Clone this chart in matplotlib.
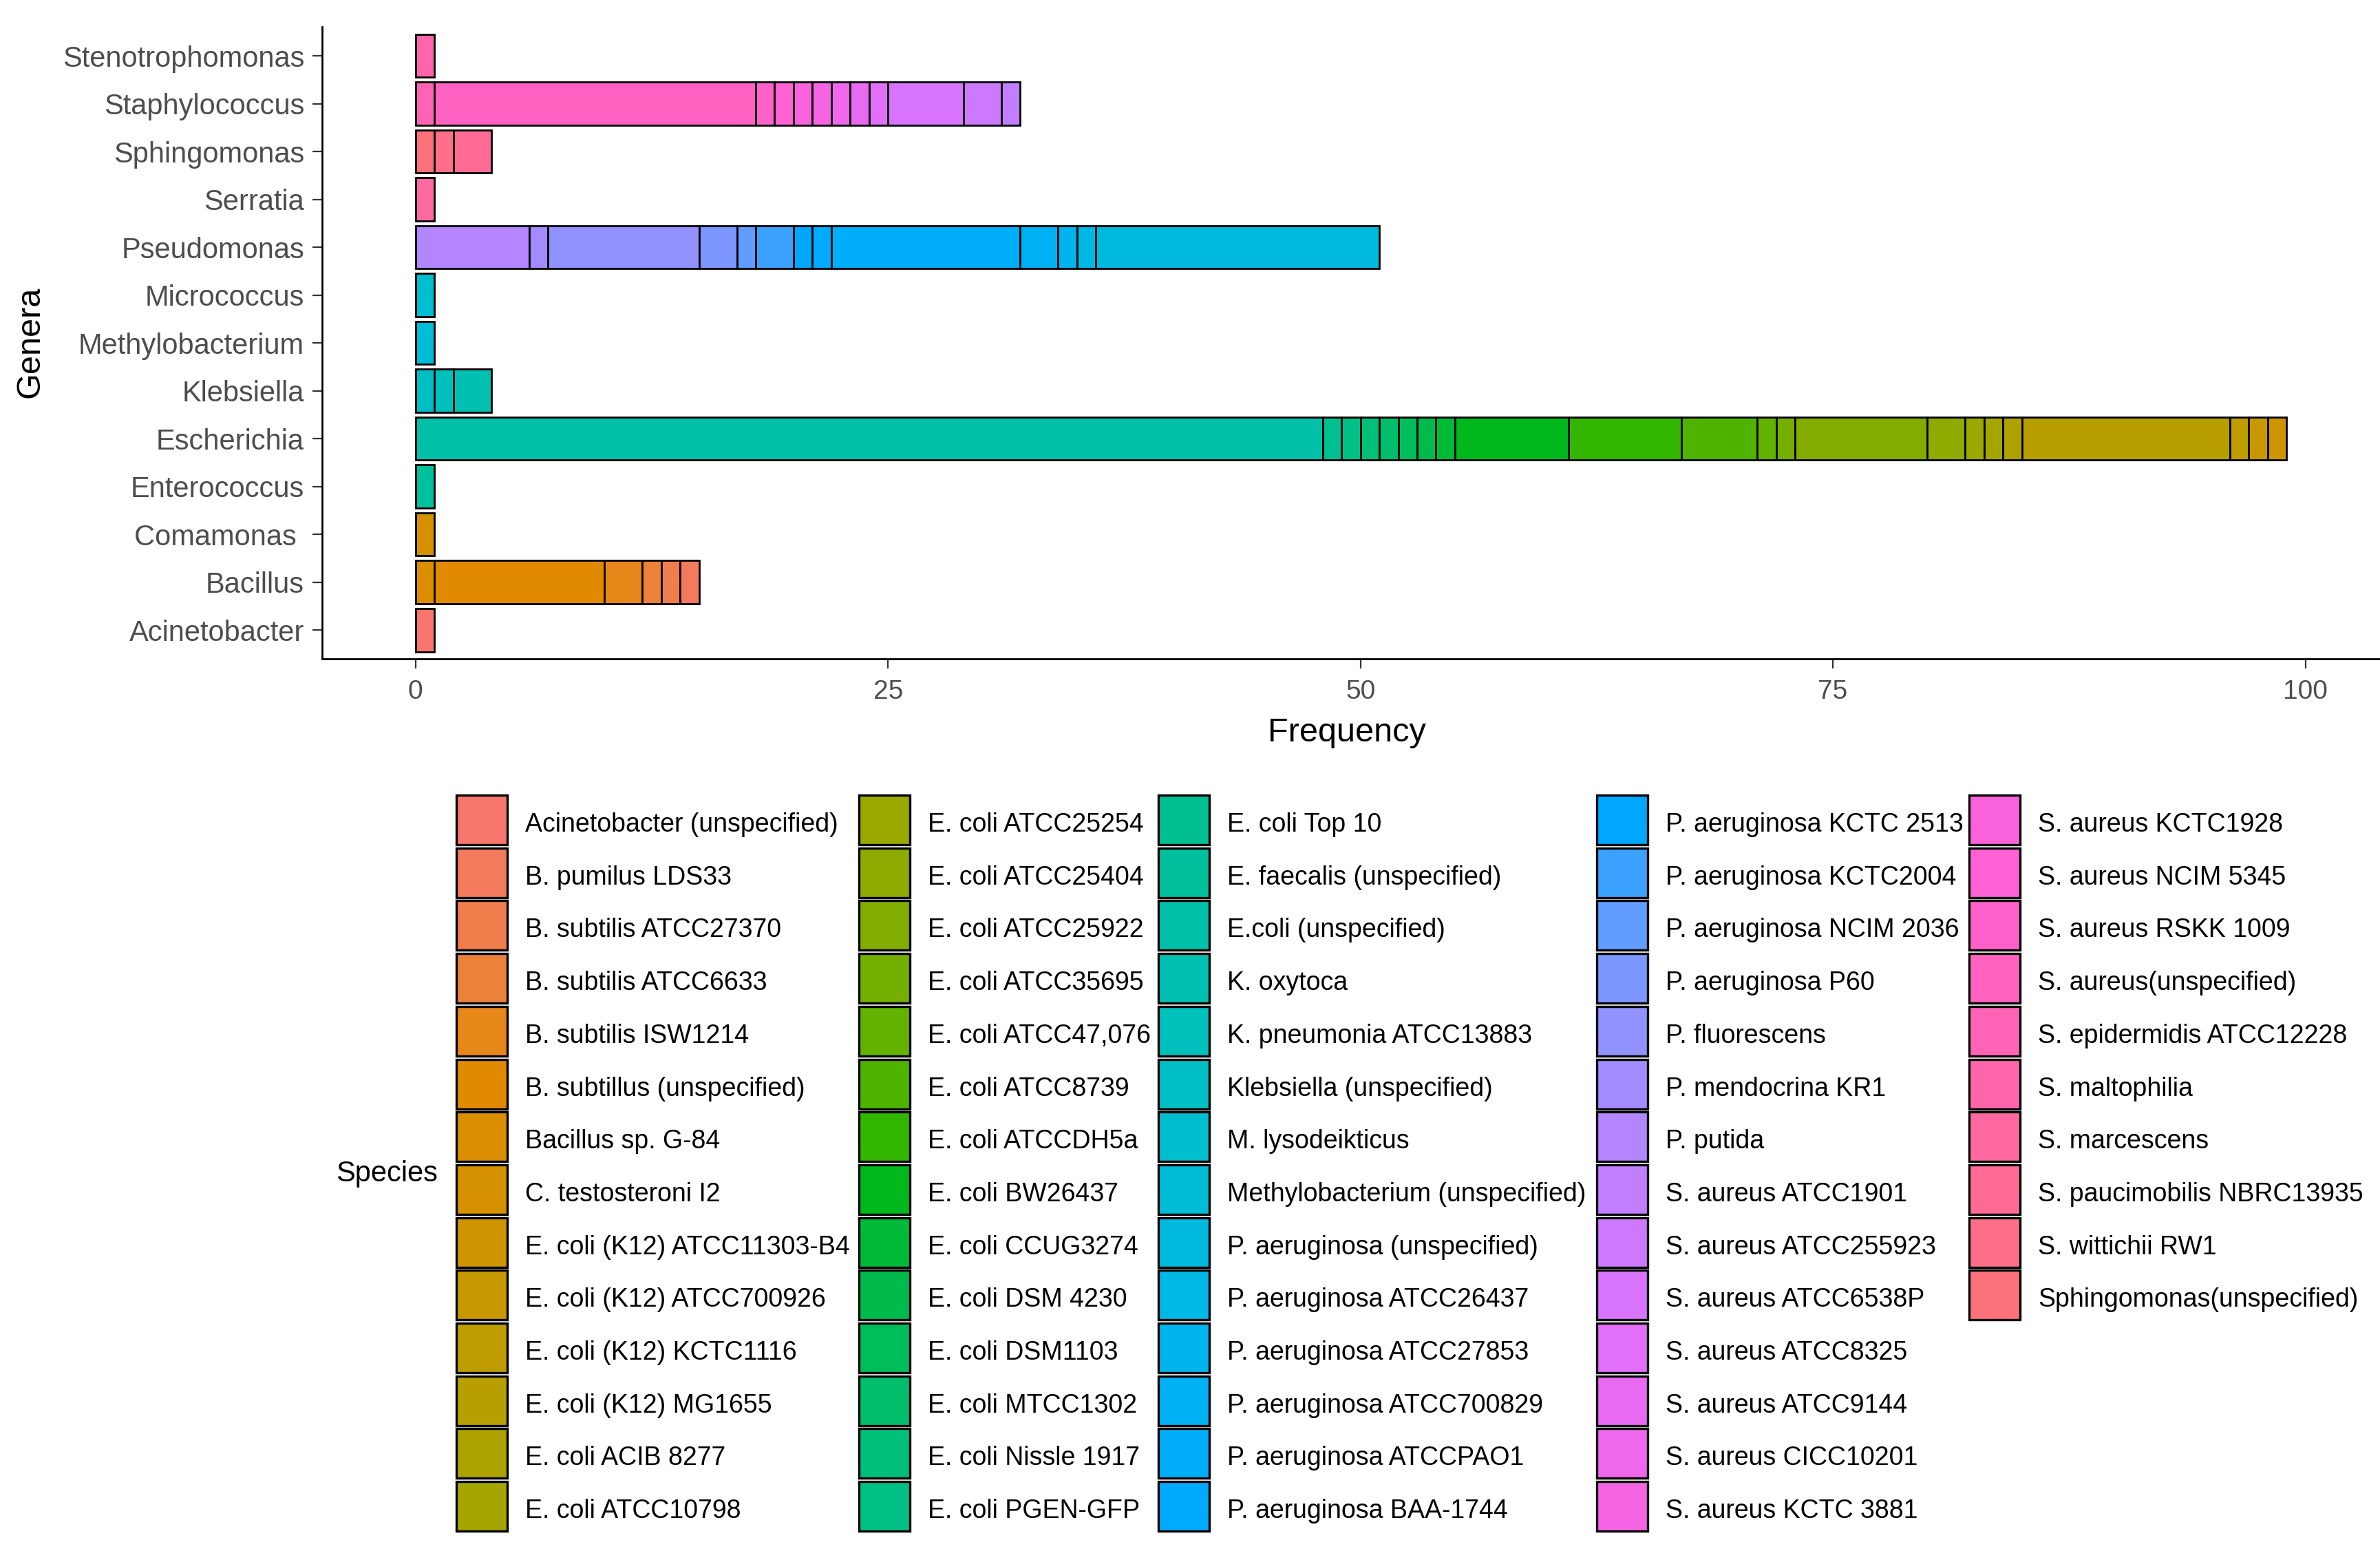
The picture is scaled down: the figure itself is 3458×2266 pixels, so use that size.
import math
import matplotlib
matplotlib.use("Agg")
import matplotlib.pyplot as plt
from matplotlib.patches import Rectangle

plt.rcParams['font.family'] = ['Liberation Sans', 'DejaVu Sans']

genera = ['Acinetobacter', 'Bacillus', 'Comamonas ', 'Enterococcus', 'Escherichia',
          'Klebsiella', 'Methylobacterium', 'Micrococcus', 'Pseudomonas', 'Serratia',
          'Sphingomonas', 'Staphylococcus', 'Stenotrophomonas']

species = [
    'Acinetobacter (unspecified)', 'B. pumilus LDS33', 'B. subtilis ATCC27370', 'B. subtilis ATCC6633',
    'B. subtilis ISW1214', 'B. subtillus (unspecified)', 'Bacillus sp. G-84', 'C. testosteroni I2',
    'E. coli (K12) ATCC11303-B4', 'E. coli (K12) ATCC700926', 'E. coli (K12) KCTC1116', 'E. coli (K12) MG1655',
    'E. coli ACIB 8277', 'E. coli ATCC10798', 'E. coli ATCC25254', 'E. coli ATCC25404', 'E. coli ATCC25922',
    'E. coli ATCC35695', 'E. coli ATCC47,076', 'E. coli ATCC8739', 'E. coli ATCCDH5a', 'E. coli BW26437',
    'E. coli CCUG3274', 'E. coli DSM 4230', 'E. coli DSM1103', 'E. coli MTCC1302', 'E. coli Nissle 1917',
    'E. coli PGEN-GFP', 'E. coli Top 10', 'E. faecalis (unspecified)', 'E.coli (unspecified)', 'K. oxytoca',
    'K. pneumonia ATCC13883', 'Klebsiella (unspecified)', 'M. lysodeikticus', 'Methylobacterium (unspecified)',
    'P. aeruginosa (unspecified)', 'P. aeruginosa ATCC26437', 'P. aeruginosa ATCC27853', 'P. aeruginosa ATCC700829',
    'P. aeruginosa ATCCPAO1', 'P. aeruginosa BAA-1744', 'P. aeruginosa KCTC 2513', 'P. aeruginosa KCTC2004',
    'P. aeruginosa NCIM 2036', 'P. aeruginosa P60', 'P. fluorescens', 'P. mendocrina KR1', 'P. putida',
    'S. aureus ATCC1901', 'S. aureus ATCC255923', 'S. aureus ATCC6538P', 'S. aureus ATCC8325', 'S. aureus ATCC9144',
    'S. aureus CICC10201', 'S. aureus KCTC 3881', 'S. aureus KCTC1928', 'S. aureus NCIM 5345', 'S. aureus RSKK 1009',
    'S. aureus(unspecified)', 'S. epidermidis ATCC12228', 'S. maltophilia', 'S. marcescens',
    'S. paucimobilis NBRC13935', 'S. wittichii RW1', 'Sphingomonas(unspecified)']

species_genus = (['Acinetobacter'] + ['Bacillus'] * 6 + ['Comamonas '] + ['Escherichia'] * 21
                 + ['Enterococcus', 'Escherichia'] + ['Klebsiella'] * 3 + ['Micrococcus', 'Methylobacterium']
                 + ['Pseudomonas'] * 13 + ['Staphylococcus'] * 12 + ['Stenotrophomonas', 'Serratia']
                 + ['Sphingomonas'] * 3)

species_freq = [1, 1, 1, 1, 2, 9, 1, 1,
                1, 1, 1, 11, 1, 1, 1, 2, 7, 1, 1, 4, 6, 6, 1, 1, 1, 1, 1, 1, 1,
                1, 48, 2, 1, 1, 1, 1,
                15, 1, 1, 2, 10, 1, 1, 2, 1, 2, 8, 1, 6,
                1, 2, 4, 1, 1, 1, 1, 1, 1, 1, 17, 1,
                1, 1, 2, 1, 1]


def hcl_hex(h, c=100, l=65):
    # R's hcl(): polar CIE-LUV -> sRGB
    hr = math.radians(h)
    U, V = c * math.cos(hr), c * math.sin(hr)
    Y = 100 * ((l + 16) / 116) ** 3 if l > 8 else 100 * l / 903.3
    u = U / (13 * l) + 0.1978398
    v = V / (13 * l) + 0.4683363
    X = 9.0 * Y * u / (4 * v)
    Z = -X / 3 - 5 * Y + 3 * Y / v
    X, Y, Z = X / 100, Y / 100, Z / 100
    r = 3.240479 * X - 1.537150 * Y - 0.498535 * Z
    g = -0.969256 * X + 1.875992 * Y + 0.041556 * Z
    b = 0.055648 * X - 0.204043 * Y + 1.057311 * Z

    def gam(t):
        t = 1.055 * t ** (1 / 2.4) - 0.055 if t > 0.00304 else 12.92 * t
        return min(max(t, 0), 1)
    return '#%02X%02X%02X' % tuple(int(round(gam(t) * 255)) for t in (r, g, b))


n = len(species)
colors = [hcl_hex(15 + 360 * i / n) for i in range(n)]

W, H = 3458, 2266
fig = plt.figure(figsize=(W / 200, H / 200), dpi=200)
ax = fig.add_axes([0.1353, 0.5777, 0.8647, 0.4049])

# stacked bars, last level nearest to zero (ggplot stacking)
for gi, g in enumerate(genera):
    left = 0
    for si in reversed(range(n)):
        if species_genus[si] != g:
            continue
        ax.barh(gi, species_freq[si], left=left, height=0.9, color=colors[si],
                edgecolor='black', linewidth=1.0)
        left += species_freq[si]

ax.set_xlim(-4.95, 103.95)
ax.set_ylim(-0.6, len(genera) - 0.4)
ax.set_xticks([0, 25, 50, 75, 100])
ax.set_yticks(range(len(genera)))
ax.set_yticklabels(genera)
for s in ['top', 'right']:
    ax.spines[s].set_visible(False)
for s in ['left', 'bottom']:
    ax.spines[s].set_linewidth(1.0)
    ax.spines[s].set_color('black')
ax.tick_params(axis='y', length=5, width=0.8, color='#333333', labelcolor='#4D4D4D',
               labelsize=15, pad=4.3)
ax.tick_params(axis='x', length=5, width=0.8, color='#333333', labelcolor='#4D4D4D',
               labelsize=14, pad=6)

fig.text(0.566, 0.5247, 'Frequency', fontsize=17.5, ha='center', va='baseline')
fig.text(0.0127, 0.7807, 'Genera', fontsize=17.5, ha='center', va='center', rotation=90)
fig.text(0.1411, 0.2427, 'Species', fontsize=15, ha='left', va='baseline')

# legend drawn in pixel coordinates, 14 keys per column
lg = fig.add_axes([0, 0, 1, 1], zorder=-1)
lg.set_xlim(0, W)
lg.set_ylim(H, 0)
lg.axis('off')
col_x = [663, 1248, 1683, 2320, 2861]
key_w, key_h, pitch, top = 74, 72, 76.7, 1155
for i, name in enumerate(species):
    x = col_x[i // 14]
    y = top + (i % 14) * pitch
    lg.add_patch(Rectangle((x, y), key_w, key_h, facecolor=colors[i],
                           edgecolor='black', linewidth=1.2))
    lg.text(x + key_w + 26, y + key_h / 2 + 17, name, fontsize=13.5,
            ha='left', va='baseline', color='black')

fig.savefig('out.png', dpi=200, facecolor='white')
